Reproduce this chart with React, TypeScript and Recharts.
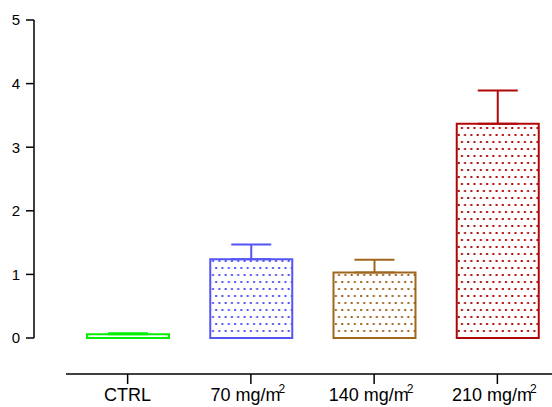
import { BarChart, Bar, XAxis, YAxis, ErrorBar } from "recharts";

const CATEGORIES = ["CTRL", "70 mg/m2", "140 mg/m2", "210 mg/m2"];
const MEANS = [0.06, 1.24, 1.03, 3.37];
const ERRORS = [0.015, 0.23, 0.2, 0.52];
const Y_TICKS = [0, 1, 2, 3, 4, 5];

const SERIES = [
  { key: "s0", color: "#00f000" },
  { key: "s1", color: "#5555f5" },
  { key: "s2", color: "#a0661e" },
  { key: "s3", color: "#b00808" },
];

// one series per group so each can carry its own error bar colour
const chartData = CATEGORIES.map((name, i) => {
  const row: Record<string, unknown> = { name };
  SERIES.forEach((s, j) => {
    row[s.key] = i === j ? MEANS[i] : 0;
    if (i === j) row[s.key + "err"] = [0, ERRORS[i]];
  });
  return row;
});

function XTick(props: any) {
  const { x, y, payload } = props;
  const label: string = payload.value;
  const unit = label.endsWith("mg/m2");
  const base = unit ? label.slice(0, -1) : label;
  return (
    <g>
      <line x1={x} x2={x} y1={y + 36} y2={y + 46} stroke="#000" strokeWidth={1.5} />
      <text
        x={unit ? x - 3 : x}
        y={y + 63}
        textAnchor="middle"
        fontSize={18}
        fontFamily="Liberation Sans, Arial, sans-serif"
        fill="#000"
      >
        {base}
        {unit && (
          <tspan dx={-2} dy={-8} fontSize={12}>
            2
          </tspan>
        )}
      </text>
    </g>
  );
}

export default function App() {
  return (
    <div
      style={{
        position: "absolute",
        left: 0,
        top: 0,
        width: 552,
        height: 407,
        overflow: "hidden",
        background: "#fff",
      }}
    >
      <BarChart
        width={559}
        height={407}
        data={chartData}
        margin={{ top: 20, right: 0, bottom: 0, left: 0 }}
        barSize={82}
      >
        <defs>
          {SERIES.map((s) => (
            <pattern
              key={s.key}
              id={"dots-" + s.key}
              width={6.3}
              height={14}
              patternUnits="userSpaceOnUse"
            >
              <rect x={1} y={1} width={2} height={2} fill={s.color} />
              <rect x={4.15} y={8} width={2} height={2} fill={s.color} />
            </pattern>
          ))}
        </defs>
        <XAxis
          dataKey="name"
          height={69}
          padding={{ left: 32, right: 0 }}
          tickSize={0}
          tickMargin={0}
          tickLine={false}
          axisLine={{ stroke: "#000", strokeWidth: 1.5, transform: "translate(32,36)" }}
          tick={<XTick />}
          interval={0}
        />
        <YAxis
          width={34}
          domain={[0, 5]}
          ticks={Y_TICKS}
          tickSize={8}
          tickMargin={6}
          axisLine={{ stroke: "#000", strokeWidth: 1.5 }}
          tickLine={{ stroke: "#000", strokeWidth: 1.5 }}
          tick={{ fontSize: 15, fill: "#000", fontFamily: "Liberation Sans, Arial, sans-serif" }}
        />
        {SERIES.map((s) => (
          <Bar
            key={s.key}
            dataKey={s.key}
            stackId="a"
            fill={`url(#dots-${s.key})`}
            stroke={s.color}
            strokeWidth={2}
            isAnimationActive={false}
          >
            <ErrorBar
              dataKey={s.key + "err"}
              width={20}
              stroke={s.color}
              strokeWidth={2}
              direction="y"
            />
          </Bar>
        ))}
      </BarChart>
    </div>
  );
}
